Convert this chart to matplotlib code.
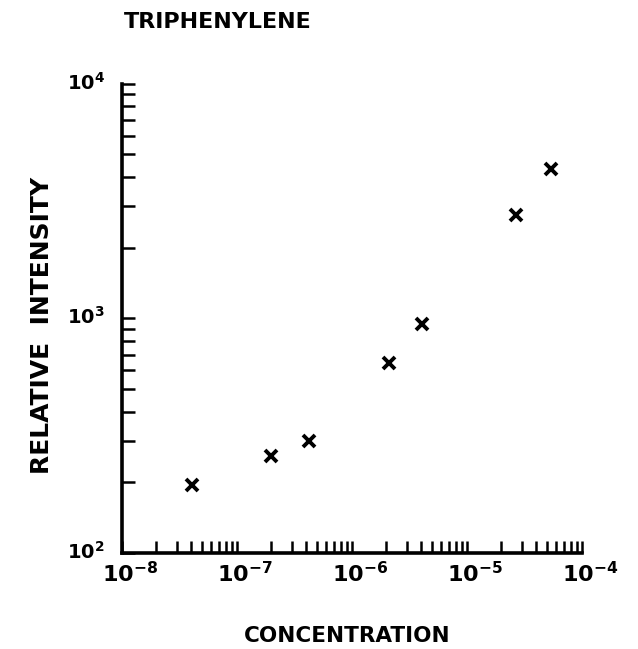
import numpy as np
from matplotlib import pyplot as plt
from matplotlib.ticker import LogLocator, LogFormatterMathtext, NullFormatter
from matplotlib.transforms import ScaledTranslation

# Values
concentration = [4.1e-8, 2.0e-7, 4.2e-7, 2.1e-6, 4.1e-6, 2.7e-5, 5.4e-5]
intensity = [195, 258, 300, 642, 943, 2750, 4330]

title = "TRIPHENYLENE"
x_label = "CONCENTRATION"
y_label = "RELATIVE  INTENSITY"

plt.rcParams['font.family'] = 'DejaVu Sans'
plt.rcParams['font.weight'] = 'bold'

fig = plt.figure(figsize=(6.38, 6.49), dpi=100)
ax = fig.add_axes([0.191, 0.148, 0.721, 0.723])

ax.plot(concentration, intensity, linestyle='none', marker='x', color='black',
        markersize=8, markeredgewidth=2.8)

ax.set_xscale('log')
ax.set_yscale('log')
ax.set_xlim(1e-8, 1e-4)
ax.set_ylim(1e2, 1e4)

for side in ['top', 'right']:
    ax.spines[side].set_visible(False)
for side in ['left', 'bottom']:
    ax.spines[side].set_linewidth(2.6)

ax.xaxis.set_major_locator(LogLocator(base=10))
ax.yaxis.set_major_locator(LogLocator(base=10))
ax.xaxis.set_minor_locator(LogLocator(base=10, subs=np.arange(2, 10)))
ax.yaxis.set_minor_locator(LogLocator(base=10, subs=np.arange(2, 10)))
ax.xaxis.set_major_formatter(LogFormatterMathtext())
ax.yaxis.set_major_formatter(LogFormatterMathtext())
ax.xaxis.set_minor_formatter(NullFormatter())
ax.yaxis.set_minor_formatter(NullFormatter())

ax.tick_params(which='both', direction='in', width=1.8, length=9, color='black')
ax.tick_params(axis='x', which='major', labelsize=16, pad=6)
ax.tick_params(axis='y', which='major', labelsize=14, pad=12)

# hand lettered labels: the "10" sits on the tick, exponent hangs off to the right
for lbl in ax.get_xticklabels():
    lbl.set_transform(lbl.get_transform() + ScaledTranslation(8 / 100, 0, fig.dpi_scale_trans))
for lbl in ax.get_yticklabels():
    lbl.set_transform(lbl.get_transform() + ScaledTranslation(0, 3 / 100, fig.dpi_scale_trans))

fig.text(0.194, 0.966, title, fontsize=16, ha='left', va='center')
fig.text(0.544, 0.020, x_label, fontsize=15.5, ha='center', va='center')
fig.text(0.066, 0.498, y_label, fontsize=18, ha='center', va='center', rotation=90)

plt.savefig('out.png', dpi=100)
